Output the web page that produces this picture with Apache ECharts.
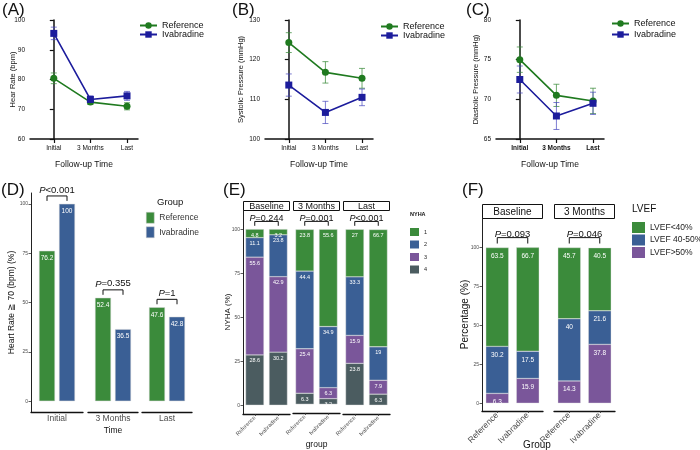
<!DOCTYPE html>
<html><head><meta charset="utf-8">
<script src="https://cdn.jsdelivr.net/npm/echarts@6/dist/echarts.min.js"></script>
<style>html,body{margin:0;padding:0;background:#fff}#c{width:700px;height:450px}</style>
</head><body><div id="c"></div>
<script>
// ---------- DATA ----------
const timepoints = ['Initial', '3 Months', 'Last'];
const hrRef = [80.4, 72.4, 71.0];
const hrRefErr = [1.8, 0.8, 1.2];
const hrIva = [95.5, 73.3, 74.5];
const hrIvaErr = [2.1, 1.2, 1.5];
const sbpRef = [124.3, 116.8, 115.3];
const sbpRefErr = [2.5, 2.7, 2.5];
const sbpIva = [113.6, 106.7, 110.5];
const sbpIvaErr = [2.8, 2.8, 2.1];
const dbpRef = [75.0, 70.5, 69.8];
const dbpRefErr = [1.6, 1.4, 1.6];
const dbpIva = [72.5, 67.9, 69.5];
const dbpIvaErr = [1.7, 1.7, 1.4];

const hr70Groups = ['Initial', '3 Months', 'Last'];
const hr70Ref = [76.2, 52.4, 47.6];
const hr70Iva = [100, 36.5, 42.8];
const hr70P = ['<0.001', '=0.355', '=1'];

const groupNames = ['Reference', 'Ivabradine'];
const nyhaFacets = ['Baseline', '3 Months', 'Last'];
const nyhaClasses = ['1', '2', '3', '4'];
// per facet: [Reference, Ivabradine]
const nyha1 = [[4.8, 3.2], [23.8, 55.6], [27, 66.7]];
const nyha2 = [[11.1, 23.8], [44.4, 34.9], [33.3, 19]];
const nyha3 = [[55.6, 42.9], [25.4, 6.3], [15.9, 7.9]];
const nyha4 = [[28.6, 30.2], [6.3, 3.2], [23.8, 6.3]];
const nyhaP = ['=0.244', '=0.001', '<0.001'];

const lvefFacets = ['Baseline', '3 Months'];
const lvefClasses = ['LVEF<40%', 'LVEF 40-50%', 'LVEF>50%'];
const lvefLow = [[63.5, 66.7], [45.7, 40.5]];
const lvefMid = [[30.2, 17.5], [40, 21.6]];
const lvefHigh = [[6.3, 15.9], [14.3, 37.8]];
const lvefP = ['=0.093', '=0.046'];

// ---------- STYLE ----------
const FONT = '"Liberation Sans", Arial, Helvetica, sans-serif';
const G = '#3b8b3b', BL = '#3a5f95', PU = '#7a569a', SL = '#4b5c60';
const LG = '#1f7a1f', LB = '#1c1c9c';
const LGe = 'rgba(60,140,60,0.75)', LBe = 'rgba(70,70,190,0.7)';
const TXT = '#111', GRAYTXT = '#4d4d4d';

const grids = [], xAxes = [], yAxes = [], series = [], legends = [], titles = [], graphics = [];
function addGrid(g) { grids.push(g); return grids.length - 1; }
function addTitle(text, left, top, size, weight) {
  titles.push({ text, left, top, padding: 0,
    textStyle: { fontSize: size, fontWeight: weight || 'normal', color: TXT, fontFamily: FONT } });
}

// ---------- error bar renderer ----------
function errRender(params, api) {
  const x = api.value(0), y = api.value(1), e = api.value(2);
  const t = api.coord([x, y + e]), b = api.coord([x, y - e]);
  const w = 3;
  const st = { stroke: api.visual('color'), lineWidth: 1 };
  return { type: 'group', children: [
    { type: 'line', shape: { x1: t[0], y1: t[1], x2: b[0], y2: b[1] }, style: st },
    { type: 'line', shape: { x1: t[0] - w, y1: t[1], x2: t[0] + w, y2: t[1] }, style: st },
    { type: 'line', shape: { x1: b[0] - w, y1: b[1], x2: b[0] + w, y2: b[1] }, style: st }
  ] };
}

// ---------- Panels A-C ----------
function linePanel(c) {
  const gi = addGrid({ left: c.left, top: 20, width: 108, height: 119 });
  xAxes.push({ gridIndex: gi, type: 'value', min: -0.65, max: 2.3,
    name: 'Follow-up Time', nameLocation: 'middle', nameGap: 21, nameMoveOverlap: false,
    nameTextStyle: { fontSize: 8.5, color: TXT, fontFamily: FONT },
    axisLine: { onZero: false, lineStyle: { color: TXT, width: 1.5 } },
    axisTick: { customValues: [0, 1, 2], length: 4, lineStyle: { color: TXT, width: 1.2 } },
    axisLabel: { customValues: [0, 1, 2], formatter: v => timepoints[v], fontSize: 6.5, color: TXT, margin: 6,
      fontWeight: c.bold ? 'bold' : 'normal', fontFamily: FONT },
    splitLine: { show: false } });
  yAxes.push({ gridIndex: gi, type: 'value', min: c.min, max: c.max, interval: c.interval,
    name: c.yname, nameLocation: 'middle', nameGap: c.nameGap, nameMoveOverlap: false,
    nameTextStyle: { fontSize: 7.5, color: TXT, fontFamily: FONT },
    axisLine: { show: true, lineStyle: { color: TXT, width: 1.5 } },
    axisTick: { show: true, length: 4, lineStyle: { color: TXT, width: 1.2 } },
    axisLabel: { fontSize: 6.5, color: TXT, margin: 5, fontFamily: FONT },
    splitLine: { show: false } });
  const mk = arr => arr.map((v, i) => [i, v]);
  const mke = (arr, err) => arr.map((v, i) => [i, v, err[i]]);
  series.push({ type: 'custom', xAxisIndex: gi, yAxisIndex: gi, renderItem: errRender, z: 2,
    itemStyle: { color: LGe }, data: mke(c.ref, c.refErr), silent: true });
  series.push({ type: 'custom', xAxisIndex: gi, yAxisIndex: gi, renderItem: errRender, z: 2,
    itemStyle: { color: LBe }, data: mke(c.iva, c.ivaErr), silent: true });
  series.push({ type: 'line', name: 'Reference', xAxisIndex: gi, yAxisIndex: gi, data: mk(c.ref),
    symbol: 'circle', symbolSize: 7, z: 3, color: LG, lineStyle: { color: LG, width: 1.6 }, itemStyle: { color: LG } });
  series.push({ type: 'line', name: 'Ivabradine', xAxisIndex: gi, yAxisIndex: gi, data: mk(c.iva),
    symbol: 'rect', symbolSize: 7, z: 3, color: LB, lineStyle: { color: LB, width: 1.6 }, itemStyle: { color: LB } });
  legends.push({ left: c.legLeft, top: c.legTop, padding: 0, orient: 'vertical', itemWidth: 17, itemHeight: 8, itemGap: c.legGap,
    data: ['Reference', 'Ivabradine'], textStyle: { fontSize: 9, color: TXT, fontFamily: FONT } });
  addTitle(c.label, c.labelLeft, 2, 17);
}
linePanel({ left: 30, min: 60, max: 100, interval: 10, yname: 'Hear Rate (bpm)', nameGap: 13,
  ref: hrRef, refErr: hrRefErr, iva: hrIva, ivaErr: hrIvaErr, legLeft: 139, legTop: 21, legGap: 0, label: '(A)', labelLeft: 2 });
linePanel({ left: 265, min: 100, max: 130, interval: 10, yname: 'Systolic Pressure (mmHg)', nameGap: 20,
  ref: sbpRef, refErr: sbpRefErr, iva: sbpIva, ivaErr: sbpIvaErr, legLeft: 380, legTop: 22, legGap: 0, label: '(B)', labelLeft: 232 });
linePanel({ left: 496, min: 65, max: 80, interval: 5, yname: 'Diastolic Pressure (mmHg)', nameGap: 16, bold: true,
  ref: dbpRef, refErr: dbpRefErr, iva: dbpIva, ivaErr: dbpIvaErr, legLeft: 611, legTop: 19, legGap: 2, label: '(C)', labelLeft: 466 });

// ---------- helpers for ggplot-like panels ----------
function pText(p, size) {
  return { text: '{i|P}{n|' + p + '}', rich: {
    i: { fontStyle: 'italic', fontSize: size, fontFamily: FONT, fill: TXT },
    n: { fontSize: size, fontFamily: FONT, fill: TXT } }, align: 'center', verticalAlign: 'bottom' };
}
function ggY(gi, c, show) {
  yAxes.push({ gridIndex: gi, type: 'value', min: c.min, max: c.max, show: show,
    name: show ? c.yname : '', nameLocation: 'middle', nameGap: c.nameGap, nameMoveOverlap: false,
    nameTextStyle: { fontSize: c.nameSize, color: TXT, fontFamily: FONT },
    axisLine: { show: true, lineStyle: { color: '#222', width: 1 } },
    axisTick: { show: true, customValues: [0, 25, 50, 75, 100], length: 2.5, lineStyle: { color: '#333', width: 0.8 } },
    axisLabel: { customValues: [0, 25, 50, 75, 100], fontSize: 5, color: GRAYTXT, margin: 3, fontFamily: FONT },
    splitLine: { show: false } });
}

// ---------- Panel D ----------
const dGrids = [[31, 52], [88, 50], [142, 50]];
hr70Groups.forEach((gname, g) => {
  const gi = addGrid({ left: dGrids[g][0], width: dGrids[g][1], top: 193, height: 219 });
  xAxes.push({ gridIndex: gi, type: 'category', data: [gname],
    name: g === 1 ? 'Time' : '', nameLocation: 'middle', nameGap: 14, nameMoveOverlap: false,
    nameTextStyle: { fontSize: 8.5, color: TXT, fontFamily: FONT },
    axisLine: { onZero: false, lineStyle: { color: '#111', width: 1.3 } }, axisTick: { show: false },
    axisLabel: { fontSize: 8.5, color: GRAYTXT, margin: 2, fontFamily: FONT } });
  ggY(gi, { min: -5.5, max: 105.5, yname: 'Heart Rate \u2267 70 (bpm) (%)', nameGap: 15, nameSize: 8.5 }, g === 0);
  const lab = { show: true, position: 'insideTop', distance: 4, color: '#fff', fontSize: 6.5, fontFamily: FONT };
  series.push({ type: 'bar', name: 'Reference', xAxisIndex: gi, yAxisIndex: gi, data: [hr70Ref[g]],
    barWidth: 16, barGap: '25%', itemStyle: { color: G, borderColor: '#d8d8d8', borderWidth: 0.5 }, label: lab });
  series.push({ type: 'bar', name: 'Ivabradine', xAxisIndex: gi, yAxisIndex: gi, data: [hr70Iva[g]],
    barWidth: 16, barGap: '25%', itemStyle: { color: BL, borderColor: '#d8d8d8', borderWidth: 0.5 }, label: lab });
  const p = hr70P[g];
  series.push({ type: 'custom', xAxisIndex: gi, yAxisIndex: gi, clip: false, silent: true, z: 5,
    data: [[0, Math.max(hr70Ref[g], hr70Iva[g])]],
    renderItem: (params, api) => {
      const top = api.value(1);
      const a = api.coord([0, top + 4]), b = api.coord([0, top + 1.5]);
      const h = 10;
      return { type: 'group', children: [
        { type: 'polyline', shape: { points: [[a[0] - h, b[1]], [a[0] - h, a[1]], [a[0] + h, a[1]], [a[0] + h, b[1]]] },
          style: { stroke: TXT, lineWidth: 1, fill: null } },
        { type: 'text', x: a[0], y: a[1] - 1, style: pText(p, 9.5) }
      ] };
    } });
});
legends.push({ left: 146, top: 212, padding: 0, orient: 'vertical', itemWidth: 8, itemHeight: 11, itemGap: 3,
  textStyle: { fontSize: 8.5, color: '#333', fontFamily: FONT },
  data: [{ name: 'Reference', icon: 'rect', itemStyle: { color: G, borderColor: '#ccc', borderWidth: 0.5 } },
         { name: 'Ivabradine', icon: 'rect', itemStyle: { color: BL, borderColor: '#ccc', borderWidth: 0.5 } }] });
addTitle('(D)', 1, 182, 17);
addTitle('Group', 157, 197, 9.5);

// ---------- stacked facet panels ----------
function stackFacets(c) {
  c.facets.forEach((fname, f) => {
    const gi = addGrid({ left: c.lefts[f], width: c.width, top: c.top, height: c.height });
    xAxes.push({ gridIndex: gi, type: 'category', data: groupNames,
      name: f === c.nameFacet ? c.xname : '', nameLocation: 'middle', nameGap: c.xnameGap, nameMoveOverlap: false,
      nameTextStyle: { fontSize: c.xnameSize, color: TXT, fontFamily: FONT },
      axisLine: { onZero: false, lineStyle: { color: '#111', width: 1.3 } },
      axisTick: { show: true, alignWithLabel: true, length: 2, lineStyle: { color: '#333', width: 0.8 } },
      axisLabel: { rotate: 45, fontSize: c.xlabSize, color: GRAYTXT, margin: 3, fontFamily: FONT } });
    ggY(gi, { min: -5, max: c.ymax, yname: c.yname, nameGap: c.ynameGap, nameSize: c.ynameSize }, f === 0);
    c.layers.forEach(L => {
      series.push({ type: 'bar', name: L.name, stack: 's' + gi, xAxisIndex: gi, yAxisIndex: gi,
        data: L.vals[f], barCategoryGap: c.gap,
        itemStyle: { color: L.color, borderColor: '#e0e0e0', borderWidth: 0.4 },
        label: { show: true, position: 'insideTop', distance: c.labDist, color: '#fff', fontSize: c.labSize, fontFamily: FONT } });
    });
    const p = c.p[f];
    series.push({ type: 'custom', xAxisIndex: gi, yAxisIndex: gi, clip: false, silent: true, z: 5,
      data: [[0, c.brTop, c.brLeg]],
      renderItem: (params, api) => {
        const a = api.coord([0, api.value(1)]), b = api.coord([1, api.value(2)]);
        return { type: 'group', children: [
          { type: 'polyline', shape: { points: [[a[0], b[1]], [a[0], a[1]], [b[0], a[1]], [b[0], b[1]]] },
            style: { stroke: TXT, lineWidth: 1, fill: null } },
          { type: 'text', x: (a[0] + b[0]) / 2, y: a[1] + c.pShift, style: pText(p, c.pSize) }
        ] };
      } });
    // strip
    graphics.push({ type: 'rect', shape: { x: c.lefts[f] + 0.5, y: c.stripTop + 0.5, width: c.width - 1, height: c.stripH },
      style: { fill: '#fff', stroke: '#111', lineWidth: 1 } });
    graphics.push({ type: 'text', x: c.lefts[f] + c.width / 2, y: c.stripTop + c.stripH / 2 + 1,
      style: { text: fname, fontSize: c.stripSize, fontFamily: FONT, fill: TXT, align: 'center', verticalAlign: 'middle' } });
  });
}

// Panel E
stackFacets({ facets: nyhaFacets, lefts: [243, 293, 343], width: 47, top: 210, height: 204, ymax: 111,
  yname: 'NYHA (%)', ynameGap: 11, ynameSize: 8, xname: 'group', nameFacet: 1, xnameGap: 27, xnameSize: 8.5,
  xlabSize: 5.5, gap: '22%', labDist: 3, labSize: 5.5, brTop: 104.5, brLeg: 102, pShift: 1.5, pSize: 9,
  p: nyhaP, stripTop: 201, stripH: 9, stripSize: 9,
  layers: [
    { name: '4', color: SL, vals: nyha4 },
    { name: '3', color: PU, vals: nyha3 },
    { name: '2', color: BL, vals: nyha2 },
    { name: '1', color: G, vals: nyha1 }
  ] });
legends.push({ left: 410, top: 228, padding: 0, orient: 'vertical', itemWidth: 9, itemHeight: 8, itemGap: 4.5,
  textStyle: { fontSize: 5.5, color: '#222', fontFamily: FONT },
  data: nyhaClasses.map(n => ({ name: n, icon: 'rect', itemStyle: { borderWidth: 0 } })) });
addTitle('(E)', 223, 182, 17);
addTitle('NYHA', 410, 211, 5.5, 'bold');

// Panel F
stackFacets({ facets: lvefFacets, lefts: [482, 554], width: 61, top: 218, height: 193, ymax: 119,
  yname: 'Percentage (%)', ynameGap: 12, ynameSize: 10, xname: '', nameFacet: -1, xnameGap: 30, xnameSize: 10,
  xlabSize: 8.5, gap: '25%', labDist: 5, labSize: 6.5, brTop: 106.4, brLeg: 102.6, pShift: 2, pSize: 9.5,
  p: lvefP, stripTop: 204, stripH: 14, stripSize: 10,
  layers: [
    { name: 'LVEF>50%', color: PU, vals: lvefHigh },
    { name: 'LVEF 40-50%', color: BL, vals: lvefMid },
    { name: 'LVEF<40%', color: G, vals: lvefLow }
  ] });
legends.push({ left: 632, top: 222, padding: 0, orient: 'vertical', itemWidth: 13, itemHeight: 11, itemGap: 1.5,
  textStyle: { fontSize: 8.5, color: '#222', fontFamily: FONT },
  data: lvefClasses.map(n => ({ name: n, icon: 'rect', itemStyle: { borderWidth: 0 } })) });
addTitle('(F)', 462, 182, 17);
addTitle('LVEF', 632, 204, 10);
graphics.push({ type: 'text', x: 537, y: 445, style: { text: 'Group', fontSize: 10, fontFamily: FONT, fill: TXT, align: 'center', verticalAlign: 'middle' } });

// ---------- render ----------
const chart = echarts.init(document.getElementById('c'), null, { renderer: 'canvas' });
chart.setOption({
  animation: false,
  backgroundColor: '#fff',
  textStyle: { fontFamily: FONT },
  title: titles,
  grid: grids,
  xAxis: xAxes,
  yAxis: yAxes,
  legend: legends,
  series: series,
  graphic: graphics
});
</script>
</body></html>
